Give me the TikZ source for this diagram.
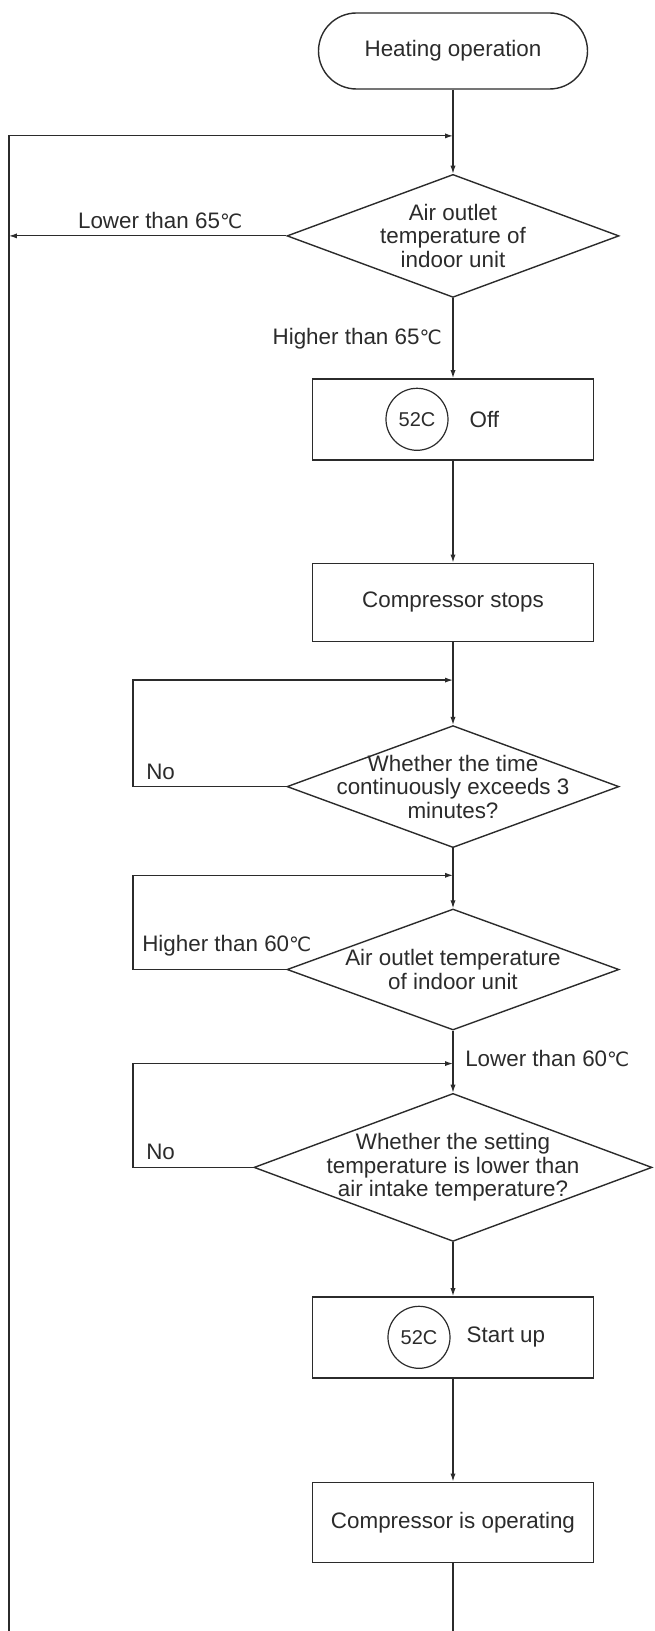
\documentclass[tikz,border=0pt]{standalone}
\usepackage{fontspec}
\setmainfont{Liberation Sans}
\newfontfamily\degfont{DejaVu Sans}[Scale=0.88]
\usetikzlibrary{arrows.meta,positioning,shapes.geometric,calc}
\definecolor{Ink}{HTML}{2B2B2B}
\newcommand{\degC}{{\degfont ℃}}
\tikzset{
 base/.style={draw=Ink,line width=0.7pt,align=center,font=\fontsize{11.2}{11.8}\selectfont,text=Ink},
 term/.style={base,rounded corners=19pt,minimum width=134.5pt,minimum height=38pt},
 box/.style={base,minimum width=140.5pt,minimum height=40.5pt},
 test/.style={base,diamond,aspect=2.7,inner sep=-8pt,minimum width=166pt,minimum height=61.5pt},
 relay/.style={circle,draw=Ink,line width=0.6pt,minimum size=31pt,inner sep=0pt,font=\fontsize{10}{12}\selectfont,text=Ink},
 tag/.style={font=\fontsize{11.2}{11.8}\selectfont,text=Ink},
 arr/.style={-{Latex[length=4pt,width=2.6pt]},line width=0.6pt,draw=Ink},
 wire/.style={line width=0.6pt,draw=Ink}
}
\begin{document}
\begin{tikzpicture}
\useasboundingbox (-226.5pt,25.5pt) rectangle (100.5pt,-790pt);
\node[term] (start) {Heating operation};
\node[test,below=42pt of start] (d1) {Air outlet\\temperature of\\indoor unit};
\node[box,below=40pt of d1] (off) {};
\node[relay] (r1) at ([xshift=-18pt]off.center) {52C};
\node[tag,right=7pt of r1] (offtxt) {Off};
\node[box,below=51pt of off,minimum height=39pt] (stop) {Compressor stops};
\node[test,below=41.5pt of stop,minimum height=61pt] (d2) {Whether the time\\continuously exceeds 3\\minutes?};
\node[test,below=30pt of d2,minimum height=60.5pt] (d3) {Air outlet temperature\\of indoor unit};
\node[test,below=31pt of d3,minimum width=199pt,minimum height=74pt] (d4) {Whether the setting\\temperature is lower than\\air intake temperature?};
\node[box,below=27pt of d4] (up) {};
\node[relay] (r2) at ([xshift=-17pt]up.center) {52C};
\node[tag,right=4.5pt of r2] (uptxt) {Start up};
\node[box,below=51.5pt of up,minimum height=40pt] (run) {Compressor is operating};
% junctions on the main line and the two loop columns
\coordinate (j1) at ($(start.south)!0.55!(d1.north)$);
\coordinate (j2) at ($(stop.south)!0.46!(d2.north)$);
\coordinate (j3) at ($(d2.south)!0.45!(d3.north)$);
\coordinate (j4) at ($(d3.south)!0.53!(d4.north)$);
\coordinate (k) at (-160pt,0);
\coordinate (bl) at (-222pt,-790pt);
\coordinate (br) at (run.south |- bl);
\foreach \a/\b in {start/d1,off/stop,stop/d2,d2/d3,d4/up,up/run} \draw[arr] (\a) -- (\b);
\draw[arr] (d1) -- node[tag,left=2pt,pos=0.51] (hi65) {Higher than 65\degC} (off);
\draw[arr] (d3) -- node[tag,right=2.5pt,pos=0.45] (lo60) {Lower than 60\degC} (d4);
\draw[arr] (d1.west) -- node[tag,above,pos=0.455] (lo65) {Lower than 65\degC} (d1.west -| bl);
\draw[arr] (bl) |- (j1);
\draw[arr] (d2.west) -- (d2.west -| k) node[tag,anchor=south west,xshift=3pt] (no2) {No} |- (j2);
\draw[arr] (d3.west) -- (d3.west -| k) node[tag,anchor=south west,xshift=1pt,yshift=3pt] (hi60) {Higher than 60\degC} |- (j3);
\draw[arr] (d4.west) -- (d4.west -| k) node[tag,anchor=south west,xshift=3pt] (no4) {No} |- (j4);
\draw[wire] (run) -- (br);
\end{tikzpicture}
\end{document}
